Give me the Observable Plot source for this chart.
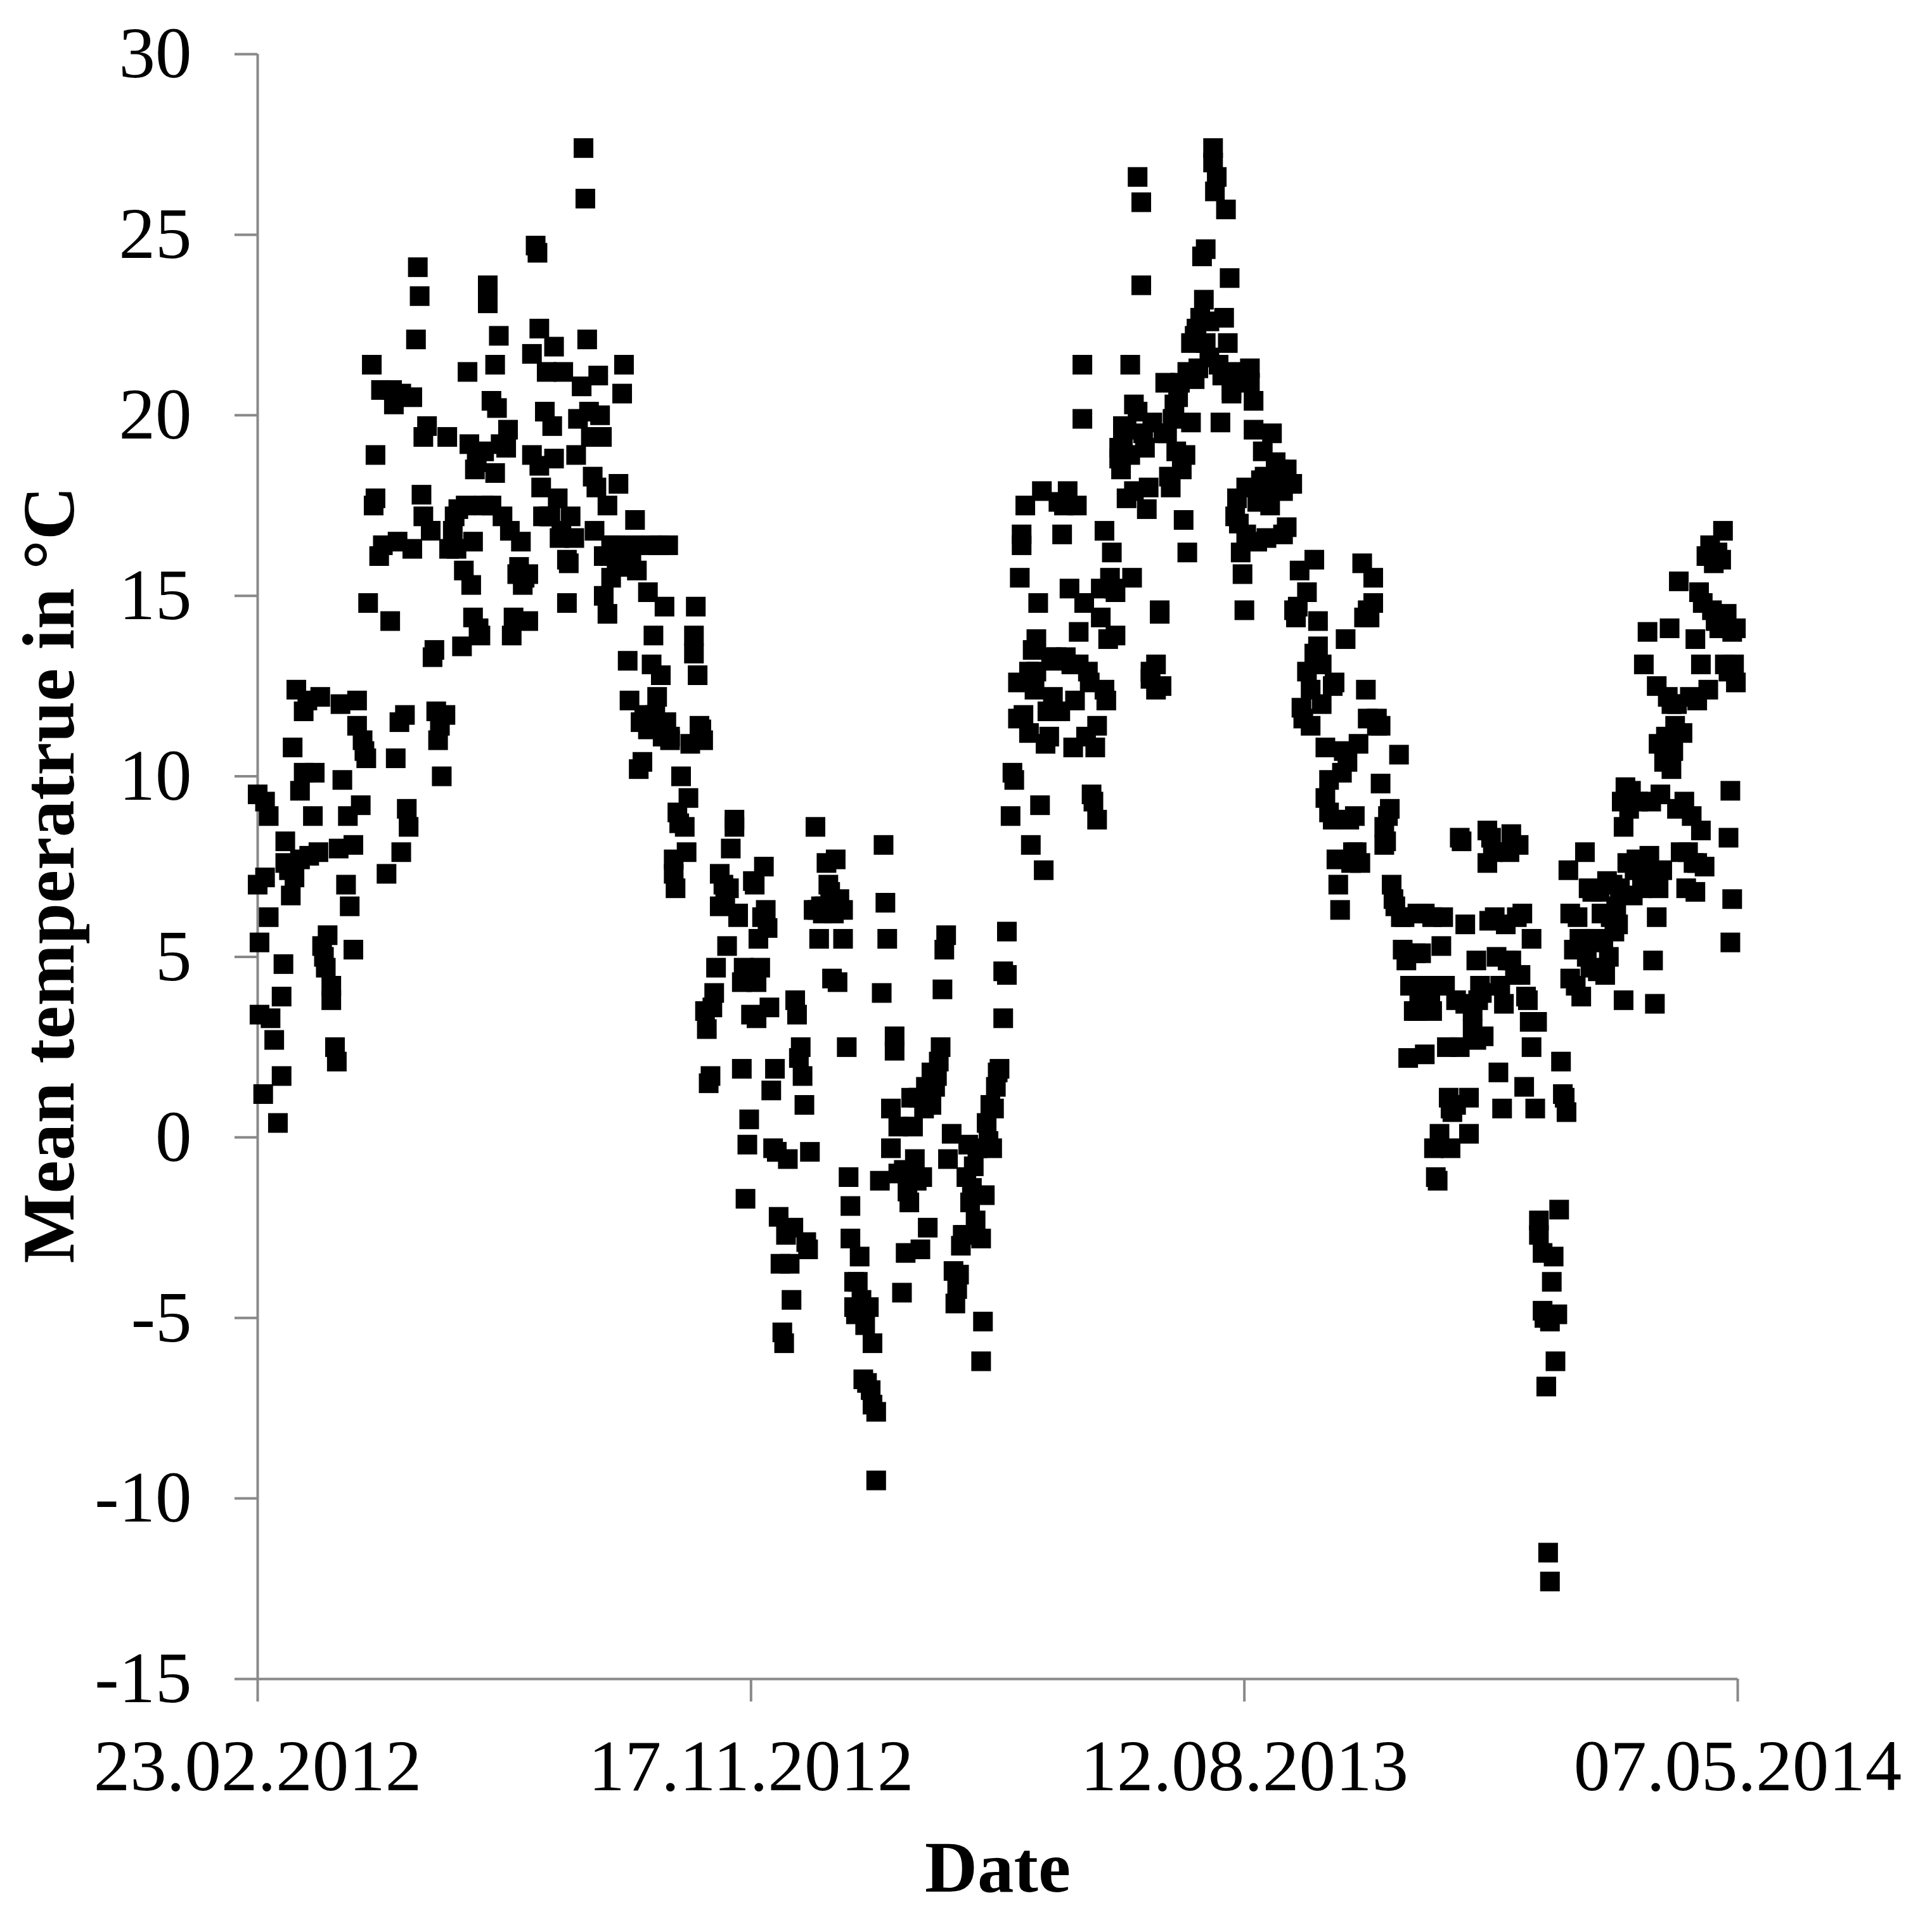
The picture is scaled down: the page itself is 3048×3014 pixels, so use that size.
<!DOCTYPE html>
<html><head><meta charset="utf-8">
<script src="https://cdn.jsdelivr.net/npm/d3@7"></script>
<script src="https://cdn.jsdelivr.net/npm/@observablehq/plot@0.6"></script>
<style>html,body{margin:0;padding:0;background:#fff}</style>
</head><body><div id="chart"></div>
<script>
// Axis content
const startDate = "23.02.2012";
const xTickLabels = ["23.02.2012", "17.11.2012", "12.08.2013", "07.05.2014"];
const yTicks = [-15, -10, -5, 0, 5, 10, 15, 20, 25, 30];
const xTitle = "Date";
const yTitle = "Mean temperatrue in °C";

// Daily mean temperature readings: day offset from 23.02.2012 and value in °C
const daysA = [0,0,1,1,3,4,4,6,6,7,9,11,13,13,14,15,15,17,18,19,20,21,23,23,25,25,27,28,30,31,33,34,35,36,37,38,40,40,42,43,44,45,46,48,49,50,52,52,54,54,56,57,58,59,60];
const tempsA = [7.0,9.5,5.4,3.4,1.2,9.3,7.2,8.9,6.1,3.3,2.7,0.4,1.7,3.9,4.8,8.2,7.6,7.4,6.7,10.8,7.2,12.4,9.6,7.7,10.1,11.8,12.1,7.8,8.9,10.1,7.9,12.2,5.3,5.0,4.7,5.6,4.2,3.8,2.5,2.1,8.0,12.0,9.9,7.0,8.9,6.4,5.2,8.1,12.1,11.4,9.2,11.0,10.7,10.5,14.8];

const daysB = [62,63,64,64,66,67,68,70,72,73,74,75,76,77,78,78,80,81,82,84,84,86,87,88,89,90,90,92,94,95,96,97,98,99,100,102,103,104,106,107,108,109,111,112,113,114,115,116,117,117,118,119,120,121,123,123,125,125,127,127,129,129,130,131,132,133,135,136,137,138,139,141];
const tempsB = [21.4,17.5,17.7,18.9,16.1,20.7,16.4,7.3,14.3,20.7,20.3,10.5,16.5,11.5,7.9,20.6,11.7,9.1,8.6,20.5,16.3,22.1,24.1,23.3,17.8,17.2,19.4,19.7,16.8,13.3,13.5,11.8,11.0,11.4,10.0,11.7,19.4,16.3,16.8,17.2,16.3,17.4,13.6,15.7,17.5,21.2,19.2,15.3,14.4,16.5,18.5,18.7,14.1,13.9,17.5,19.0,23.6,23.1,17.5,20.4,18.4,21.4,20.2,22.2,19.2,17.2,19.1,19.6,16.8,13.9,14.4,15.6];

const daysC = [142,143,144,145,147,147,149,149,151,152,153,153,154,155,156,157,158,159,160,161,161,163,164,165,166,168,168,169,170,172,173,174,176,177,178,179,180,181,182,183,184,185,186,187,188,188,190,190,192,192,194,195,196,198,198,199,200];
const tempsC = [15.8,16.5,15.3,15.5,15.6,14.3,18.9,21.7,24.7,24.5,18.6,22.4,18.0,17.2,20.1,21.2,17.2,17.2,19.7,21.9,18.8,17.7,16.6,16.8,21.2,14.8,16.0,15.9,17.2,16.6,18.9,19.9,20.8,27.4,26.0,22.1,20.1,19.4,18.3,16.8,18.0,21.1,20.0,19.4,16.1,15.0,17.5,14.5,16.4,15.5,16.4,16.0,18.1,16.0,20.6,21.4,15.8];

const daysD = [201,202,203,204,205,206,207,208,209,210,212,212,214,214,215,216,217,218,219,220,221,222,223,224,224,226,226,227,228,229,230,232,233,234,235,237,237,238,239,240,241,242,243,244,245,246,247,248,249,251,251,253,254,255,256,257,259,259,261,261,263,263,264,265,266,267];
const tempsD = [13.2,12.1,16.0,16.4,17.1,15.7,10.2,11.5,10.4,11.7,11.3,15.1,16.4,13.1,13.9,11.7,12.2,16.4,12.8,11.1,14.7,11.5,16.4,11.1,11.0,7.7,7.3,6.9,9.0,8.7,10.0,8.6,7.9,9.4,10.9,13.4,13.9,14.7,12.8,11.4,11.3,11.0,3.5,3.0,1.5,1.7,3.6,4.0,4.7,6.4,7.3,7.0,6.6,5.3,6.9,8.0,8.6,8.8,6.2,6.1,4.3,1.9,4.7,-1.7,-0.2,0.5];

const daysE = [268,269,270,271,271,272,273,274,275,276,277,278,279,280,281,282,283,284,285,286,287,288,289,290,291,292,293,294,295,296,297,298,299,300,302,303,304,305,306,307,308,309,310,311,312,313,314,315,316,318,318,320,321,322,322,324,324,325,326,327,328,329,330,331,332,333,334,334,336,336,338,339,340,341];
const tempsE = [3.4,7.1,7.0,4.3,3.3,5.5,4.7,6.1,7.5,6.3,5.8,3.6,1.3,-0.3,1.9,-0.4,-2.2,-3.5,-5.4,-5.7,-2.7,-0.6,-3.5,-4.5,-2.5,3.8,3.4,2.2,2.5,1.7,0.9,-2.9,-3.1,-0.4,6.3,8.6,6.3,5.5,6.4,6.2,6.4,7.6,7.0,6.8,4.4,6.2,7.7,4.3,6.6,6.3,5.5,2.5,-1.1,-1.9,-2.8,-4.0,-4.7,-4.9,-4.0,-3.3,-4.5,-6.7,-5.2,-6.8,-4.7,-7.0,-5.7,-7.4,-7.6,-9.5,-1.2,4.0,8.1,6.5];

const daysF = [342,344,344,346,346,348,348,350,351,352,353,354,355,356,357,358,359,360,361,362,363,364,366,366,368,369,370,371,372,373,374,375,377,378,379,380,381,382,383,384,385,386,387,388,389,390,391,393,393,394,395,396,397,398,399,400,401,402,403,405,405,407,407];
const tempsF = [5.5,0.8,-0.3,2.8,2.4,0.3,-1.0,-4.3,-0.9,-3.2,-1.5,-1.8,1.1,0.3,-0.6,-1.2,1.1,-3.1,-1.1,0.8,1.4,-2.5,1.8,0.9,1.4,1.7,2.1,2.5,4.1,5.2,5.6,-0.6,0.1,-3.7,-4.6,-4.2,-3.8,-3.0,-2.7,-2.7,-1.1,-0.2,-1.8,-1.4,-0.8,-2.3,-0.3,-6.2,-2.8,-5.1,-1.6,0.4,-0.1,0.9,-0.3,0.8,1.4,1.8,1.9,3.3,4.6,4.5,5.7];

const daysG = [409,410,411,413,413,414,415,415,416,417,419,419,420,421,422,423,423,424,425,426,427,428,429,430,431,432,433,434,435,436,437,438,439,440,441,442,443,444,445,446,446,448,448,449,450,451,452,453,454,455,456,456,458,458,460,460,461,462,463,464,465,466,466];
const tempsG = [8.9,10.1,9.9,11.6,12.6,15.5,16.4,16.7,11.7,17.5,12.9,11.2,8.1,13.5,12.4,13.8,12.9,14.8,9.2,17.9,7.4,10.9,11.8,11.1,13.3,12.2,13.2,13.3,17.6,11.8,16.7,17.5,13.3,17.9,15.2,13.1,10.8,12.1,17.5,13.1,14.0,21.4,19.9,14.8,11.1,12.9,12.6,9.5,9.3,10.8,8.8,11.4,14.4,15.2,12.4,16.8,12.1,13.8,15.5,16.2,15.2,13.9,15.1];

const daysH = [468,468,469,470,470,472,472,474,474,475,476,476,478,478,480,480,481,482,483,484,485,485,486,488,488,490,490,491,492,493,494,495,496,497,498,499,500,501,502,503,504,505,505,507,507,509,509,510,511,512,513,514,515,515,517,517,519,519,520,521,522,523,524,525,526,527,528,529,529];
const tempsH = [18.8,19.1,18.5,19.7,19.4,17.7,19.6,18.9,21.4,15.5,20.3,17.9,20.1,26.6,23.6,25.9,19.5,19.1,17.4,18.0,12.9,12.7,19.8,13.1,12.4,14.5,14.6,12.5,19.5,20.9,19.5,18.3,18.0,19.9,20.3,19.0,20.5,20.9,18.5,17.1,18.9,16.2,21.2,22.0,19.8,21.0,22.2,22.4,21.3,22.7,24.4,23.2,24.6,22.0,22.6,21.6,27.4,27.0,26.2,26.6,21.4,19.8,21.1,22.7,25.7,22.0,23.8,20.7,20.6];

const daysI = [531,531,532,533,534,535,536,537,537,539,539,541,541,543,543,545,545,546,547,548,549,550,551,552,553,554,555,557,557,559,559,561,562,563,564,565,566,567,568,570,570,572,572,574,574,576,576,578,578,580,580,582,582,584,584,585,586,587,588,589,590,591,592,593,594,595,596,597,598,599];
const tempsI = [17.2,21.2,17.7,17.0,16.2,15.6,14.6,18.0,16.7,20.9,21.3,20.4,19.6,17.6,16.5,17.8,18.2,19.0,18.3,16.6,17.9,17.5,19.5,18.2,18.7,18.0,18.5,16.7,17.9,16.9,18.5,18.1,18.1,14.6,14.4,14.7,15.7,11.9,11.6,15.1,12.9,11.4,12.4,16.0,13.4,14.3,13.6,13.1,12.0,9.4,10.8,9.0,9.9,8.8,12.5,12.6,7.7,7.0,6.3,10.1,10.7,13.8,10.4,8.8,7.6,7.9,8.9,7.9,10.9,7.6];

const daysJ = [600,601,602,603,603,604,606,606,608,608,610,610,612,612,613,614,615,616,617,618,620,621,622,623,624,625,626,627,628,629,630,630,631,632,634,634,636,637,638,638,639,640,641,642,643,644,645,646,647,648,648,649,651,651,653,653,654,656,656,658,658,660,660,662,662,663,664,665,666,668,668,669];
const tempsJ = [15.9,14.4,12.4,14.6,11.6,14.4,14.8,15.5,11.4,11.6,9.8,11.4,8.1,8.6,8.2,8.9,9.1,7.0,6.6,6.4,10.6,6.1,5.2,6.1,4.9,2.2,4.2,4.2,3.5,5.1,3.5,6.2,4.0,5.1,2.3,6.2,4.2,3.8,6.1,3.5,-0.3,-1.1,-1.2,0.1,5.3,6.1,4.2,2.5,1.1,0.8,-0.3,0.7,0.9,3.8,2.5,8.3,8.2,3.7,5.9,0.1,1.1,3.5,3.0,4.9,2.7,3.8,4.2,4.0,2.8,7.6,8.5,6.0];

const daysK = [670,671,672,673,674,675,676,677,678,679,680,681,681,683,684,685,686,687,688,689,690,691,692,692,694,695,696,696,698,698,699,700,701,702,702,703,704,705,706,707,708,709,710,711,712,713,713,715,716,717,718,719,720,721,722,723,724,725,726,727,728,729,730,731,732,733,734,735,736,737,738,739,740];
const tempsK = [8.3,7.9,6.1,5.0,1.8,4.2,0.8,3.7,5.9,4.9,7.9,8.4,4.9,4.5,6.1,8.1,4.5,6.2,1.4,3.9,3.8,3.2,2.5,5.5,0.8,3.2,-2.3,-2.7,-3.2,-4.8,-5.0,-6.9,-11.5,-12.3,-5.1,-4.0,-3.3,-6.2,-4.9,-2.0,2.1,1.2,1.1,0.7,7.4,6.2,4.4,5.2,4.2,6.1,5.5,3.9,5.5,7.9,5.0,6.9,4.7,6.8,5.4,5.5,4.6,6.8,6.2,5.5,4.5,7.1,5.0,6.1,7.0,5.7,6.4,5.9,6.9];

const daysL = [741,742,742,743,744,745,746,747,748,749,750,751,752,753,754,755,756,757,758,759,760,760,761,761,762,763,764,765,766,767,768,768,769,770,771,771,772,773,774,775,776,777,778,779,780,781,781,782,782,783,784,784,785,786,787,788,789,790,791,792,793,794,795,796,797,798,799,799,800,800,801,801,802,803,803];
const tempsL = [9.3,8.6,3.8,9.7,7.6,9.1,9.6,6.7,7.4,7.7,9.3,7.6,6.9,13.1,7.4,14.0,7.8,9.3,4.9,3.7,6.1,12.5,6.9,10.9,9.5,7.4,10.4,11.1,12.2,14.1,12.0,10.2,10.7,11.4,9.1,12.0,15.4,7.9,11.2,9.3,6.9,7.9,12.2,8.9,7.6,13.8,6.8,12.1,7.6,15.1,13.1,8.5,14.8,7.5,16.1,12.4,16.4,14.6,15.9,14.3,16.2,14.1,16.0,16.8,13.1,14.5,12.9,8.3,9.6,5.4,14.0,6.6,13.1,14.1,12.6];

const parseDate = d3.utcParse("%d.%m.%Y");
const start = parseDate(startDate);
const xTicks = xTickLabels.map(parseDate);
const chunks = [[daysA,tempsA],[daysB,tempsB],[daysC,tempsC],[daysD,tempsD],[daysE,tempsE],[daysF,tempsF],[daysG,tempsG],[daysH,tempsH],[daysI,tempsI],[daysJ,tempsJ],[daysK,tempsK],[daysL,tempsL]];
chunks.forEach(([d, t], i) => { if (d.length !== t.length) console.warn("chunk", i, d.length, t.length); });
const data = chunks.flatMap(([ds, ts]) => d3.zip(ds, ts).map(([d, t]) => ({date: d3.utcDay.offset(start, d), temp: t})));

const serif = "'Liberation Serif','Times New Roman',Times,serif";
const axisGray = "#898989";
const yFormat = d => (d < 0 ? "-" : "") + Math.abs(d);

const chart = Plot.plot({
  width: 3048,
  height: 3014,
  marginLeft: 406,
  marginRight: 307,
  marginTop: 85,
  marginBottom: 365,
  style: {fontFamily: serif, fontSize: "115px", background: "#fff", color: "#000"},
  x: {type: "utc", domain: [xTicks[0], xTicks[xTicks.length - 1]]},
  y: {domain: [-15, 30]},
  marks: [
    Plot.ruleY([-15], {stroke: axisGray, strokeWidth: 4}),
    Plot.ruleX([xTicks[0]], {stroke: axisGray, strokeWidth: 4}),
    Plot.axisY(yTicks, {tickSize: 36, tickPadding: 68, stroke: axisGray, strokeWidth: 4, fill: "#000", fontSize: 115, label: null, tickFormat: yFormat}),
    Plot.axisX(xTicks, {tickSize: 36, tickPadding: 58, stroke: axisGray, strokeWidth: 4, fill: "#000", fontSize: 115, label: null, tickFormat: d3.utcFormat("%d.%m.%Y")}),
    Plot.dot(data, {x: "date", y: "temp", symbol: "square", r: 17.5, fill: "#000", stroke: "none"}),
    Plot.text([xTitle], {frameAnchor: "bottom", dy: 335, lineAnchor: "bottom", textAnchor: "middle", fontWeight: "bold", fontSize: 115, fill: "#000"}),
    Plot.text([yTitle], {frameAnchor: "left", dx: -291, dy: 13, rotate: -90, lineAnchor: "bottom", textAnchor: "middle", fontWeight: "bold", fontSize: 117, fill: "#000"})
  ]
});
document.getElementById("chart").appendChild(chart);
</script>
</body></html>
